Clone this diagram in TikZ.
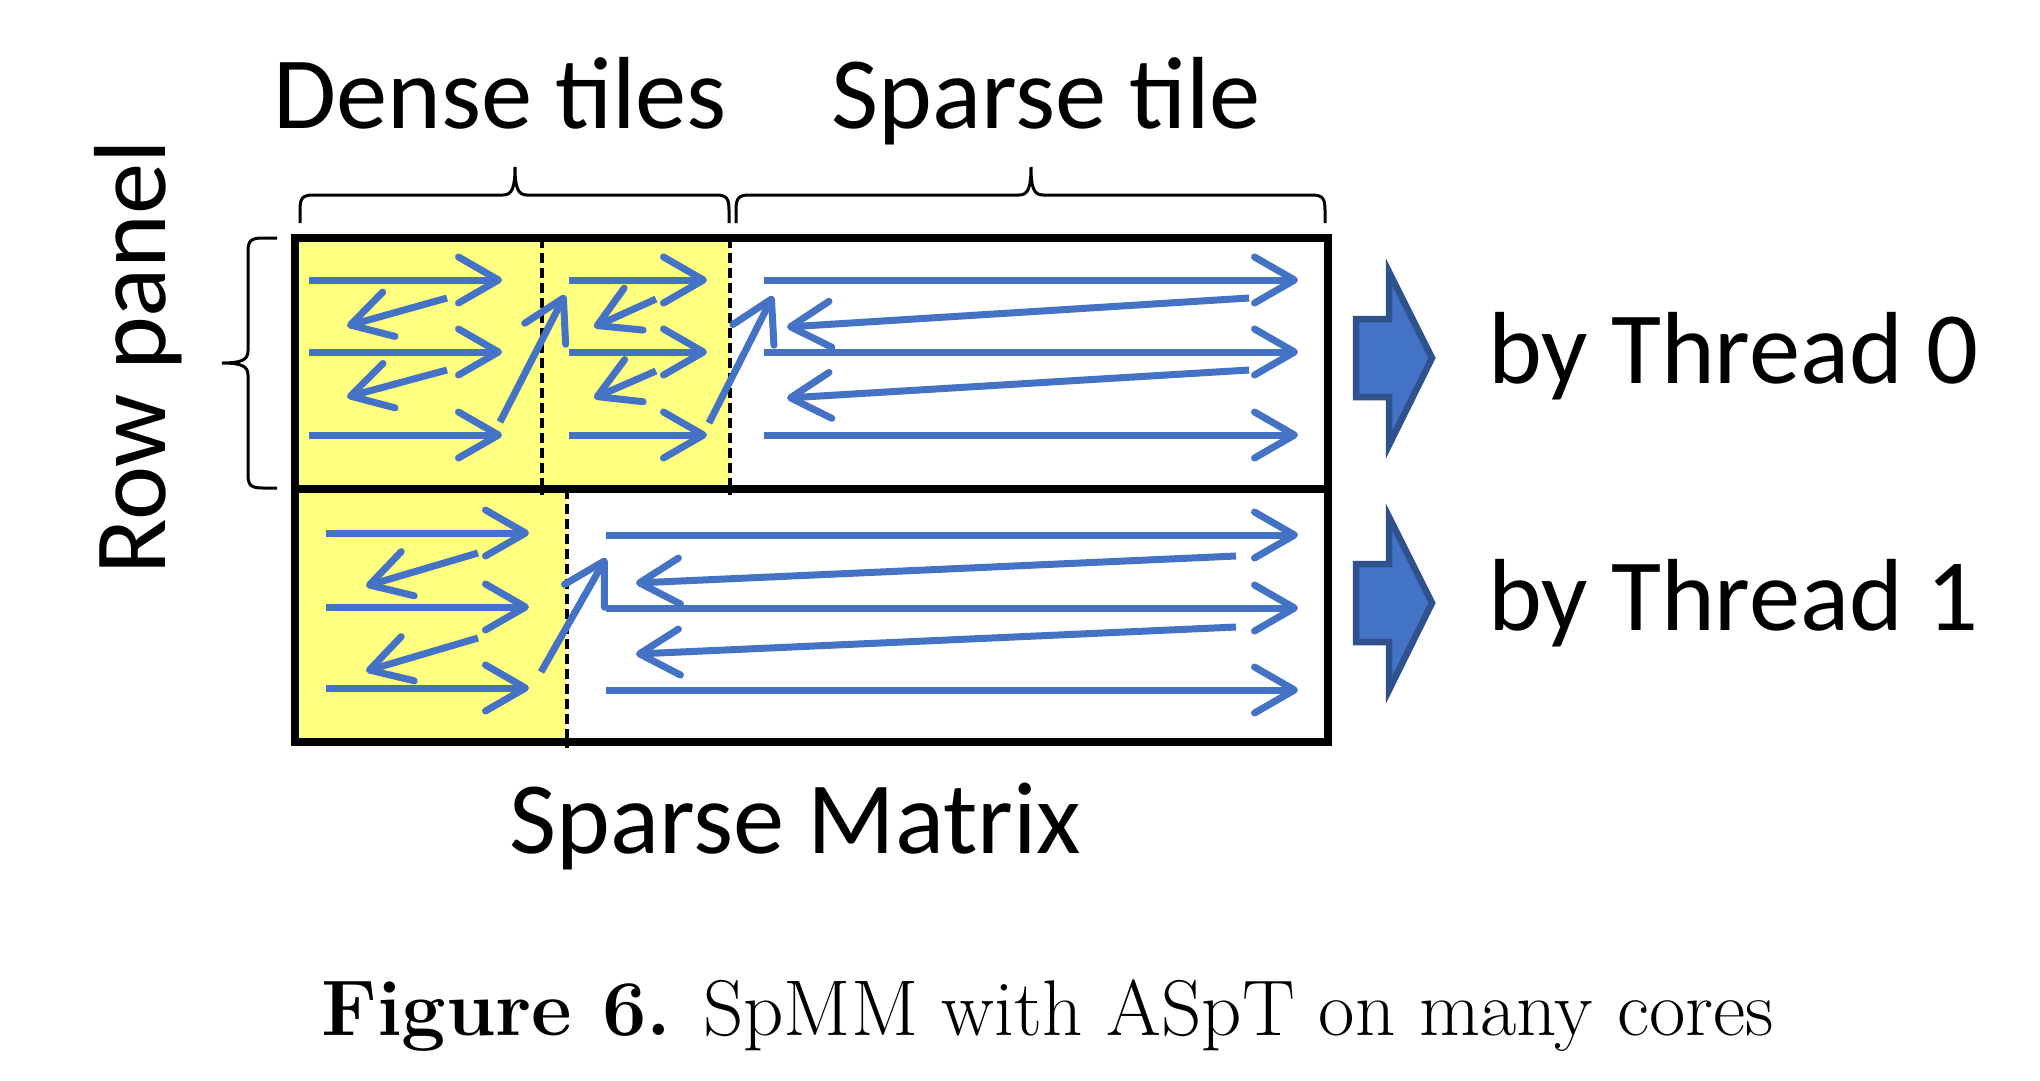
\documentclass[tikz,border=0pt]{standalone}
\usepackage{fontspec}
\newfontfamily\calib{Carlito}
\usetikzlibrary{arrows.meta}
\definecolor{ablue}{HTML}{4472C4}
\definecolor{adark}{HTML}{2F528F}
\definecolor{tileyellow}{HTML}{FFFF80}
\begin{document}
\begin{tikzpicture}[x=1pt,y=-1pt,
  walk/.style={ablue, line width=7pt, -{Straight Barb[length=40pt,width=46pt,round]}},
  lbl/.style={font=\calib\fontsize{102.5}{110}\selectfont, inner sep=0pt},
  frameline/.style={line width=8pt},
  divider/.style={line width=3.5pt, dash pattern=on 10pt off 5pt},
  bracefig/.style={line width=3pt, line cap=butt},
  blockarrow/.style={fill=ablue, draw=adark, line width=6.5pt, line join=miter}
]
\useasboundingbox (0,0) rectangle (2040,1080);
\fill[white] (0,0) rectangle (2040,1080);

% yellow dense tiles
\fill[tileyellow] (295,238) rectangle (730,489);
\fill[tileyellow] (295,489) rectangle (567,742);

% tile dividers
\draw[divider] (542,238) -- (542,495);
\draw[divider] (730,238) -- (730,495);
\draw[divider] (567,489) -- (567,748);

% matrix frame
\draw[frameline] (295,238) rectangle (1328,742);
\draw[frameline] (295,489) -- (1328,489);

% ---- row panel 0 ----
% dense tile 1
\draw[walk] (309,280) -- (502,280);
\draw[walk] (447,298) -- (347,326);
\draw[walk] (309,352) -- (502,352);
\draw[walk] (447,370) -- (347,397);
\draw[walk] (309,435) -- (502,435);
\draw[walk] (500,422) -- (565,295);
% dense tile 2
\draw[walk] (569,280) -- (707,280);
\draw[walk] (656,299) -- (594,327);
\draw[walk] (569,352) -- (707,352);
\draw[walk] (656,371) -- (594,398);
\draw[walk] (569,435) -- (707,435);
\draw[walk] (709,423) -- (773,296);
% sparse tile
\draw[walk] (764,280) -- (1298,280);
\draw[walk] (1249,298) -- (787,327);
\draw[walk] (764,352) -- (1298,352);
\draw[walk] (1249,370) -- (787,398);
\draw[walk] (764,435) -- (1298,435);

% ---- row panel 1 ----
\draw[walk] (326,533) -- (529,533);
\draw[walk] (478,553) -- (366,586);
\draw[walk] (326,607) -- (529,607);
\draw[walk] (478,638) -- (366,671);
\draw[walk] (326,688) -- (529,688);
\draw[walk] (541,672) -- (606,558);
\draw[walk] (606,535) -- (1298,535);
\draw[walk] (1236,556) -- (636,583);
\draw[walk] (606,608) -- (1298,608);
\draw[walk] (1236,627) -- (636,654);
\draw[walk] (606,690) -- (1298,690);

% braces
\draw[bracefig] (300,223) -- (300,210) .. controls (300,199) and (302,195) .. (313,195)
  -- (503,195) .. controls (512,195) and (515,188) .. (515,167)
  .. controls (515,188) and (518,195) .. (527,195)
  -- (716,195) .. controls (727,195) and (729,199) .. (729,210) -- (729,223);
\draw[bracefig] (736,223) -- (736,210) .. controls (736,199) and (738,195) .. (749,195)
  -- (1019,195) .. controls (1028,195) and (1031,188) .. (1031,167)
  .. controls (1031,188) and (1034,195) .. (1043,195)
  -- (1312,195) .. controls (1323,195) and (1325,199) .. (1325,210) -- (1325,223);
\draw[bracefig] (277,238) -- (263,238) .. controls (252,238) and (248,240) .. (248,251)
  -- (248,351) .. controls (248,360) and (241,363) .. (222,363)
  .. controls (241,363) and (248,366) .. (248,375)
  -- (248,475) .. controls (248,486) and (252,488) .. (263,488) -- (277,488);

% block arrows
\draw[blockarrow] (1356,319) -- (1389,319) -- (1389,272) -- (1432,358) -- (1389,445) -- (1389,397) -- (1356,397) -- cycle;
\draw[blockarrow] (1356,564) -- (1389,564) -- (1389,517) -- (1432,603) -- (1389,690) -- (1389,642) -- (1356,642) -- cycle;

% labels
\node[lbl, anchor=base west] (dense) at (273,128) {Dense tiles};
\node[lbl, anchor=base west] (sparse) at (831,128) {Sparse tile};
\node[lbl, anchor=base, rotate=90] (rowpanel) at (165,357) {Row panel};
\node[lbl, anchor=base west] (thr0) at (1488,383) {by Thread 0};
\node[lbl, anchor=base west] (thr1) at (1488,630) {by Thread 1};
\node[lbl, anchor=base west] (matrix) at (509,853) {Sparse Matrix};
\node[anchor=base west, inner sep=0pt, font=\fontsize{79}{85}\selectfont] (caption) at (321,1035) {\textbf{Figure 6.} SpMM with ASpT on many cores};
\end{tikzpicture}
\end{document}
